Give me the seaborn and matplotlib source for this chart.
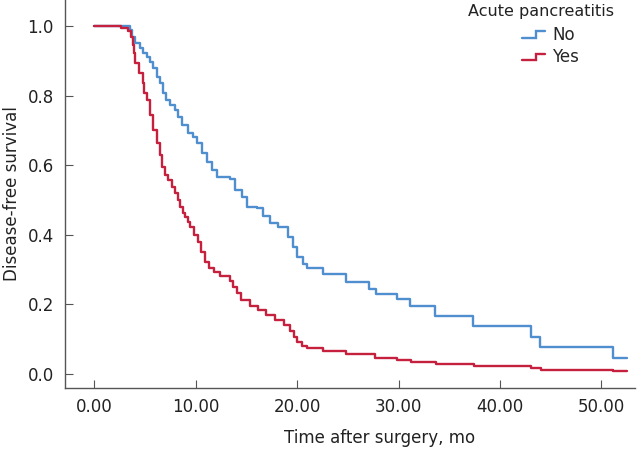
import numpy as np
import pandas as pd
import matplotlib
matplotlib.use("Agg")
import matplotlib.pyplot as plt
import seaborn as sns
from matplotlib.lines import Line2D
from matplotlib.legend_handler import HandlerLine2D

# Kaplan-Meier step values (time in months, survival fraction)
no_time = [0.0, 3.55, 3.74, 4.04, 4.53, 4.83, 5.22, 5.52, 5.81, 6.21, 6.50, 6.80,
           7.09, 7.49, 7.98, 8.28, 8.67, 9.26, 9.75, 10.15, 10.64, 11.13, 11.63,
           12.12, 13.40, 13.89, 14.58, 15.07, 16.06, 16.65, 17.34, 18.13, 19.11,
           19.61, 20.00, 20.59, 20.99, 22.56, 24.83, 27.09, 27.78, 29.85, 31.13,
           33.60, 37.34, 43.05, 43.94, 51.13, 52.5]
no_surv = [1.0, 0.989, 0.968, 0.951, 0.937, 0.922, 0.911, 0.897, 0.879, 0.853,
           0.836, 0.807, 0.787, 0.773, 0.759, 0.739, 0.716, 0.693, 0.681, 0.664,
           0.635, 0.609, 0.586, 0.566, 0.560, 0.529, 0.509, 0.480, 0.477, 0.454,
           0.434, 0.422, 0.394, 0.365, 0.336, 0.316, 0.305, 0.287, 0.264, 0.244,
           0.230, 0.216, 0.195, 0.167, 0.138, 0.106, 0.078, 0.046, 0.046]

yes_time = [0.0, 2.66, 3.35, 3.65, 3.84, 3.94, 4.04, 4.43, 4.83, 4.93, 5.22, 5.52,
            5.81, 6.21, 6.50, 6.70, 6.99, 7.29, 7.68, 7.98, 8.28, 8.47, 8.77,
            8.97, 9.26, 9.46, 9.85, 10.25, 10.54, 10.94, 11.33, 11.82, 12.41,
            13.40, 13.69, 14.09, 14.48, 15.37, 16.16, 16.95, 17.83, 18.72, 19.31,
            19.70, 20.00, 20.49, 20.99, 22.56, 24.83, 27.68, 29.85, 31.23, 33.69,
            37.44, 43.05, 44.04, 51.13, 52.5]
yes_surv = [1.0, 0.994, 0.986, 0.968, 0.945, 0.922, 0.894, 0.865, 0.836, 0.807,
            0.787, 0.744, 0.701, 0.664, 0.629, 0.595, 0.572, 0.557, 0.537, 0.520,
            0.500, 0.480, 0.463, 0.451, 0.437, 0.422, 0.399, 0.379, 0.351, 0.322,
            0.305, 0.293, 0.282, 0.267, 0.250, 0.233, 0.213, 0.195, 0.184, 0.170,
            0.155, 0.141, 0.124, 0.106, 0.092, 0.080, 0.075, 0.066, 0.057, 0.046,
            0.040, 0.034, 0.029, 0.023, 0.017, 0.011, 0.009, 0.009]

groups = ["No", "Yes"]
colors = {"No": "#4f8fd0", "Yes": "#c5203e"}
x_ticks = [0, 10, 20, 30, 40, 50]
y_ticks = [0.0, 0.2, 0.4, 0.6, 0.8, 1.0]

df = pd.concat([
    pd.DataFrame({"time": no_time, "surv": no_surv, "group": "No"}),
    pd.DataFrame({"time": yes_time, "surv": yes_surv, "group": "Yes"}),
], ignore_index=True)


class StepHandler(HandlerLine2D):
    # little step glyph like the SPSS legend
    def create_artists(self, legend, orig_handle, xdescent, ydescent, width,
                       height, fontsize, trans):
        xs = np.array([0.0, 0.6, 0.6, 1.0]) * width - xdescent
        ys = np.array([0.2, 0.2, 0.75, 0.75]) * height - ydescent
        line = Line2D(xs, ys, color=orig_handle.get_color(),
                      lw=orig_handle.get_linewidth(), solid_joinstyle="miter")
        line.set_transform(trans)
        return [line]


sns.set_style("ticks")
plt.rcParams["font.family"] = ["DejaVu Sans"]

fig = plt.figure(figsize=(6.44, 4.50), dpi=100)
ax = fig.add_axes([0.101, 0.138, 0.885, 0.862])

sns.lineplot(data=df, x="time", y="surv", hue="group", palette=colors,
             hue_order=groups, estimator=None, errorbar=None, sort=False,
             drawstyle="steps-post", linewidth=1.7, legend=False, ax=ax)

ax.set_xlim(-2.86, 53.3)
ax.set_ylim(-0.040, 1.075)
ax.set_xticks(x_ticks)
ax.set_xticklabels(["{:.2f}".format(v) for v in x_ticks])
ax.set_yticks(y_ticks)
ax.set_yticklabels(["{:.1f}".format(v) for v in y_ticks])
ax.tick_params(direction="in", length=5.5, width=0.8, colors="#555555",
               labelcolor="#222222", labelsize=12)
ax.tick_params(axis="x", pad=7)
ax.tick_params(axis="y", pad=8)
for side in ["top", "right"]:
    ax.spines[side].set_visible(False)
for side in ["left", "bottom"]:
    ax.spines[side].set_color("#555555")
    ax.spines[side].set_linewidth(1.0)

ax.set_xlabel("Time after surgery, mo", fontsize=12, color="#222222", labelpad=9)
ax.xaxis.set_label_coords(0.552, -0.105)
ax.set_ylabel("Disease-free survival", fontsize=12, color="#222222")
ax.yaxis.set_label_coords(-0.077, 0.5)

handles = [Line2D([], [], color=colors[g], lw=1.7) for g in groups]
fig.text(0.727, 0.975, "Acute pancreatitis", fontsize=11.5, color="#222222",
         va="center", ha="left")
fig.legend(handles, groups, loc="upper left", bbox_to_anchor=(0.810, 0.942),
           frameon=False, fontsize=12, handlelength=1.4, handletextpad=0.45,
           labelspacing=0.25, borderpad=0, borderaxespad=0,
           handler_map={Line2D: StepHandler()})

fig.savefig("out.png", dpi=100, facecolor="white")
